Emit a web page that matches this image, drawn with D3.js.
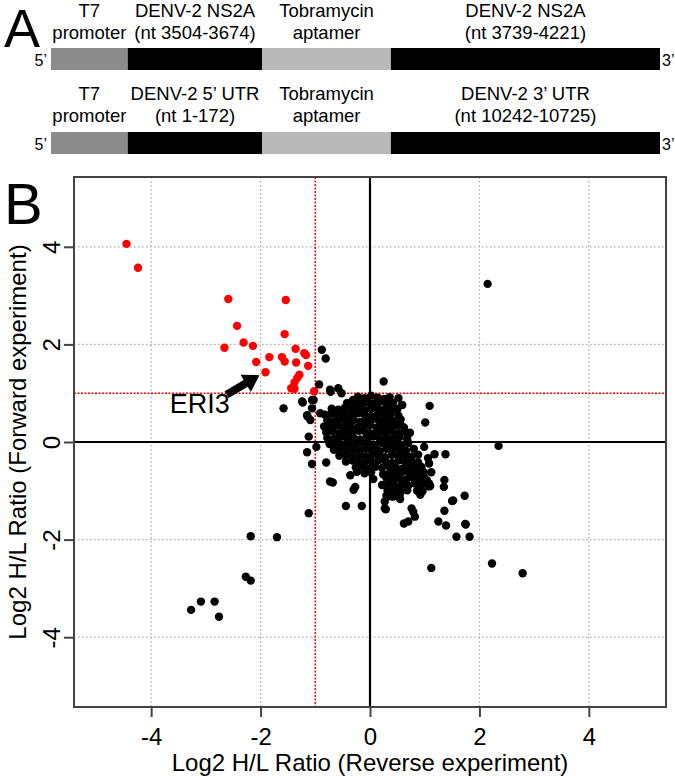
<!DOCTYPE html>
<html><head><meta charset="utf-8">
<script src="https://cdnjs.cloudflare.com/ajax/libs/d3/7.8.5/d3.min.js"></script>
<style>html,body{margin:0;padding:0;background:#fff;} svg{display:block;}</style>
</head><body><div id="chart"></div>
<script>
// ---------- Panel A data ----------
const constructLabelsTop = [["T7","promoter"],["DENV-2 NS2A","(nt 3504-3674)"],["Tobramycin","aptamer"],["DENV-2 NS2A","(nt 3739-4221)"]];
const constructLabelsBottom = [["T7","promoter"],["DENV-2 5\u2019 UTR","(nt 1-172)"],["Tobramycin","aptamer"],["DENV-2 3\u2019 UTR","(nt 10242-10725)"]];
const segmentKinds = ["promoter","seq","aptamer","seq"];
const segmentBounds = [0, 77, 212, 341, 611]; // relative lengths along construct

// ---------- Panel B data ----------
const xTicks = [-4,-2,0,2,4];
const yTicks = [-4,-2,0,2,4];
const redX = [-4.45,-4.24,-2.59,-1.54,-2.43,-1.56,-2.31,-2.14,-2.66,-1.36,-1.20,-1.17,-1.84,-1.61,-1.56,-1.35,-2.08,-1.13,-1.91,-1.29,-1.33,-1.38,-1.41,-1.38,-1.44,-1.02];
const redY = [4.06,3.57,2.93,2.91,2.38,2.21,2.04,1.97,1.93,1.91,1.82,1.78,1.74,1.74,1.65,1.63,1.64,1.56,1.43,1.38,1.31,1.22,1.10,1.09,1.10,1.04];
// scattered black points
const outX = [2.15,2.35,1.12,2.23,2.79,-0.88,-0.81,0.25,-0.93,-1.58,1.09,1.01,0.99,1.18,1.38,1.06,-0.73,-0.58,-0.52,-0.72,-1.24,-1.06,-1.14,-1.09,-1.12,-1.15,-1.06,-0.98,-0.80,-0.73,-0.68,-1.12,-0.44,-0.15,-0.36,-0.24,-0.30,-0.27,0.27,0.29,0.55,0.76,0.79,0.62,0.70,0.82,1.25,1.36,1.50,1.73,1.74,1.36,1.35,1.58,1.82,1.08,0.94,1.03,1.08,1.52,1.39,1.75,0.36,-2.18,-1.70,-2.27,-2.18,-3.09,-2.84,-3.27,-2.76,0.27,0.58,0.56,0.73,-1.23,-1.03,-0.31,0.52,0.59,-1.15,-0.91,-1.06,0.98,1.10,0.86,0.92,1.12];
const outY = [3.24,-0.08,-2.58,-2.49,-2.69,1.89,1.71,1.24,1.18,0.69,0.74,0.40,-0.10,-0.25,-0.25,-0.33,1.07,1.10,1.00,1.03,0.83,0.86,0.52,0.45,0.11,-0.21,-0.45,-0.10,-0.42,-0.81,-0.83,-1.46,-1.31,-1.31,-0.68,-0.61,-0.98,-0.92,-1.22,-1.38,-1.17,-1.36,-1.43,-1.67,-1.63,-1.53,-1.63,-1.41,-1.21,-1.10,-1.68,-0.78,-0.92,-1.94,-1.94,-0.44,-0.57,-0.78,-0.85,-1.20,-1.71,-1.69,-1.11,-1.93,-1.95,-2.76,-2.84,-3.27,-3.27,-3.44,-3.58,-1.36,0.76,0.35,0.19,0.81,0.86,0.86,0.90,0.76,0.55,0.59,0.69,-0.68,-0.90,-1.00,-1.08,-0.62];
// dense central cluster
const coreX = [
 -0.22,-0.10,0.02,0.14,0.26,0.36,
 -0.42,-0.30,-0.18,-0.06,0.06,0.18,0.30,0.42,
 -0.70,-0.58,-0.46,-0.34,-0.22,-0.10,0.02,0.14,0.26,0.38,0.50,
 -0.82,-0.70,-0.58,-0.46,-0.34,-0.22,-0.10,0.02,0.14,0.26,0.38,0.52,
 -0.78,-0.66,-0.54,-0.42,-0.30,-0.18,-0.06,0.06,0.18,0.30,0.42,0.56,
 -0.84,-0.72,-0.60,-0.48,-0.36,-0.24,-0.12,0.00,0.12,0.24,0.36,0.48,0.62,
 -0.80,-0.68,-0.56,-0.44,-0.32,-0.20,-0.08,0.04,0.16,0.28,0.40,0.52,0.64,
 -0.78,-0.66,-0.54,-0.42,-0.30,-0.18,-0.06,0.06,0.18,0.30,0.42,0.54,0.68,
 -0.74,-0.62,-0.50,-0.38,-0.26,-0.14,-0.02,0.10,0.22,0.34,0.46,0.58,0.70,
 -0.66,-0.54,-0.42,-0.30,-0.18,-0.06,0.06,0.18,0.30,0.42,0.54,0.66,0.80,
 -0.56,-0.44,-0.32,-0.20,-0.08,0.04,0.16,0.28,0.40,0.52,0.64,0.76,0.88,
 -0.44,-0.32,-0.20,-0.08,0.04,0.16,0.28,0.40,0.52,0.64,0.76,0.88,
 -0.26,-0.14,-0.02,0.10,0.22,0.34,0.46,0.58,0.70,0.82,0.94,
 -0.10,0.02,0.24,0.36,0.48,0.60,0.72,0.84,0.98,
 0.06,0.30,0.42,0.54,0.66,0.78,0.90,1.04,
 0.22,0.34,0.46,0.58,0.70,0.82,0.94,1.08,
 0.32,0.44,0.56,0.68,0.96,
 0.30,0.42,0.54,
 0.48,0.64,0.76,0.88,0.52,0.70];
const coreY = [
 0.93,0.90,0.95,0.91,0.88,0.92,
 0.80,0.82,0.78,0.81,0.79,0.83,0.78,0.80,
 0.68,0.66,0.70,0.67,0.69,0.65,0.68,0.70,0.66,0.69,0.67,
 0.56,0.58,0.54,0.57,0.55,0.59,0.56,0.53,0.57,0.55,0.58,0.54,
 0.44,0.42,0.46,0.43,0.45,0.41,0.44,0.47,0.42,0.45,0.43,0.46,
 0.32,0.30,0.34,0.31,0.33,0.29,0.32,0.35,0.30,0.33,0.31,0.34,0.30,
 0.20,0.22,0.18,0.21,0.19,0.23,0.20,0.17,0.21,0.19,0.22,0.18,0.21,
 0.08,0.06,0.10,0.07,0.09,0.05,0.08,0.11,0.06,0.09,0.07,0.10,0.06,
 -0.04,-0.02,-0.06,-0.03,-0.05,-0.01,-0.04,-0.07,-0.02,-0.05,-0.03,-0.06,-0.02,
 -0.16,-0.14,-0.18,-0.15,-0.17,-0.13,-0.16,-0.19,-0.14,-0.17,-0.15,-0.18,-0.14,
 -0.28,-0.26,-0.30,-0.27,-0.29,-0.25,-0.28,-0.31,-0.26,-0.29,-0.27,-0.30,-0.26,
 -0.40,-0.38,-0.42,-0.39,-0.41,-0.37,-0.40,-0.43,-0.38,-0.41,-0.39,-0.42,
 -0.52,-0.50,-0.54,-0.51,-0.53,-0.49,-0.52,-0.55,-0.50,-0.53,-0.51,
 -0.64,-0.62,-0.66,-0.63,-0.65,-0.61,-0.64,-0.67,-0.62,
 -0.76,-0.74,-0.78,-0.75,-0.77,-0.73,-0.76,-0.79,
 -0.88,-0.86,-0.90,-0.87,-0.89,-0.85,-0.88,-0.91,
 -1.00,-0.98,-1.02,-0.99,-1.01,
 -1.10,-1.12,-1.09,
 -0.70,-0.82,-0.58,-0.70,-0.94,-0.46];
// annotation (data units)
const arrowFrom = [-2.62, 0.97];
const arrowTo = [-2.02, 1.37];
const annotText = "ERI3";
const annotPos = [-3.66, 0.59];

// ---------- drawing ----------
const W = 675, H = 776;
const svg = d3.select("#chart").append("svg").attr("width", W).attr("height", H)
  .style("font-family", "'Liberation Sans', Arial, Helvetica, sans-serif");

// Panel A
const narrow = "'Liberation Sans Narrow','Arial Narrow','Liberation Sans',Arial,sans-serif";
svg.append("text").attr("x", 4).attr("y", 47).attr("font-size", 54).text("A");
const segX = d3.scaleLinear().domain([0, 611]).range([51, 660]);
const fillOf = {promoter: "#8c8c8c", seq: "#000000", aptamer: "#b9b9b9"};
const rows = [{labels: constructLabelsTop, barTop: 48, textY: 17}, {labels: constructLabelsBottom, barTop: 132, textY: 100}];
rows.forEach(r => {
  const g = svg.append("g");
  segmentKinds.forEach((k, i) => {
    g.append("rect").attr("x", segX(segmentBounds[i])).attr("y", r.barTop)
      .attr("width", segX(segmentBounds[i+1]) - segX(segmentBounds[i])).attr("height", 22)
      .attr("fill", fillOf[k]);
    const cx = (segX(segmentBounds[i]) + segX(segmentBounds[i+1])) / 2;
    r.labels[i].forEach((t, j) => {
      g.append("text").attr("x", cx).attr("y", r.textY + j * 22).attr("text-anchor", "middle")
        .attr("font-size", 18.5).attr("font-family", narrow).text(t);
    });
  });
  g.append("text").attr("x", 47).attr("y", r.barTop + 18).attr("text-anchor", "end")
    .attr("font-size", 16).attr("font-family", narrow).text("5\u2019");
  g.append("text").attr("x", 662).attr("y", r.barTop + 18)
    .attr("font-size", 16).attr("font-family", narrow).text("3\u2019");
});

// Panel B
svg.append("text").attr("x", 4).attr("y", 224).attr("font-size", 58).text("B");
const x = d3.scaleLinear().domain([-5.41, 5.41]).range([74, 666]);
const y = d3.scaleLinear().domain([-5.43, 5.43]).range([707, 177]);
const plot = svg.append("g");
// grid
plot.selectAll(".gx").data(xTicks.filter(d => d !== 0)).join("line")
  .attr("x1", d => x(d)).attr("x2", d => x(d)).attr("y1", y(5.43)).attr("y2", y(-5.43))
  .attr("stroke", "#ababab").attr("stroke-width", 1.3).attr("stroke-dasharray", "1.5,2.5");
plot.selectAll(".gy").data(yTicks.filter(d => d !== 0)).join("line")
  .attr("y1", d => y(d)).attr("y2", d => y(d)).attr("x1", x(-5.41)).attr("x2", x(5.41))
  .attr("stroke", "#ababab").attr("stroke-width", 1.3).attr("stroke-dasharray", "1.5,2.5");
// threshold lines
plot.append("line").attr("x1", x(-1)).attr("x2", x(-1)).attr("y1", y(5.43)).attr("y2", y(-5.43))
  .attr("stroke", "#ff0000").attr("stroke-width", 1.5).attr("stroke-dasharray", "2,1.5");
plot.append("line").attr("y1", y(1)).attr("y2", y(1)).attr("x1", x(-5.41)).attr("x2", x(5.41))
  .attr("stroke", "#ff0000").attr("stroke-width", 1.5).attr("stroke-dasharray", "2,1.5");
// zero lines
plot.append("line").attr("x1", x(0)).attr("x2", x(0)).attr("y1", y(5.43)).attr("y2", y(-5.43))
  .attr("stroke", "#000").attr("stroke-width", 2.2);
plot.append("line").attr("y1", y(0)).attr("y2", y(0)).attr("x1", x(-5.41)).attr("x2", x(5.41))
  .attr("stroke", "#000").attr("stroke-width", 2.2);

// points
const blackPts = coreX.map((v, i) => [v, coreY[i]]).concat(outX.map((v, i) => [v, outY[i]]));
const redPts = redX.map((v, i) => [v, redY[i]]);
plot.selectAll(".pb").data(blackPts).join("circle")
  .attr("cx", d => x(d[0])).attr("cy", d => y(d[1])).attr("r", 4.2).attr("fill", "#000");
plot.selectAll(".pr").data(redPts).join("circle")
  .attr("cx", d => x(d[0])).attr("cy", d => y(d[1])).attr("r", 4.2).attr("fill", "#ff0000");

// frame
svg.append("rect").attr("x", 74).attr("y", 177).attr("width", 592).attr("height", 530)
  .attr("fill", "none").attr("stroke", "#444").attr("stroke-width", 2);

// axes
const fmt = d => String(d);
const xAxis = svg.append("g").attr("transform", "translate(0,707)")
  .call(d3.axisBottom(x).tickValues(xTicks).tickSize(10).tickPadding(11).tickFormat(fmt));
xAxis.select(".domain").remove();
xAxis.selectAll("line").attr("stroke", "#444").attr("stroke-width", 2);
xAxis.selectAll("text").attr("font-size", 24).attr("fill", "#000").attr("font-family", "'Liberation Sans', Arial, sans-serif");
const yAxis = svg.append("g").attr("transform", "translate(74,0)")
  .call(d3.axisLeft(y).tickValues(yTicks).tickSize(10).tickPadding(4).tickFormat(fmt));
yAxis.select(".domain").remove();
yAxis.selectAll("line").attr("stroke", "#444").attr("stroke-width", 2);
yAxis.selectAll("text").attr("font-size", 24).attr("fill", "#000")
  .attr("font-family", "'Liberation Sans', Arial, sans-serif")
  .attr("x", null).attr("dy", null)
  .attr("text-anchor", "middle")
  .attr("transform", "translate(-14,0) rotate(-90)");

// axis titles
svg.append("text").attr("x", (74 + 666) / 2).attr("y", 771).attr("text-anchor", "middle")
  .attr("font-size", 24).text("Log2 H/L Ratio (Reverse experiment)");
svg.append("text").attr("transform", `translate(26,${(177 + 707) / 2}) rotate(-90)`).attr("text-anchor", "middle")
  .attr("font-size", 24).text("Log2 H/L Ratio (Forward experiment)");

// annotation arrow
(function(){
  const P0 = [x(arrowFrom[0]), y(arrowFrom[1])], P1 = [x(arrowTo[0]), y(arrowTo[1])];
  const dx = P1[0] - P0[0], dy = P1[1] - P0[1], L = Math.hypot(dx, dy);
  const u = [dx / L, dy / L], n = [-u[1], u[0]];
  const hl = 16, sw = 4, hw = 10;
  const B = [P1[0] - u[0] * hl, P1[1] - u[1] * hl];
  const pts = [
    [P0[0] + n[0]*sw, P0[1] + n[1]*sw], [B[0] + n[0]*sw, B[1] + n[1]*sw], [B[0] + n[0]*hw, B[1] + n[1]*hw],
    P1, [B[0] - n[0]*hw, B[1] - n[1]*hw], [B[0] - n[0]*sw, B[1] - n[1]*sw], [P0[0] - n[0]*sw, P0[1] - n[1]*sw]];
  svg.append("path").attr("d", d3.line()(pts) + "Z").attr("fill", "#000");
  svg.append("text").attr("x", x(annotPos[0])).attr("y", y(annotPos[1])).attr("font-size", 27).text(annotText);
})();
</script></body></html>
